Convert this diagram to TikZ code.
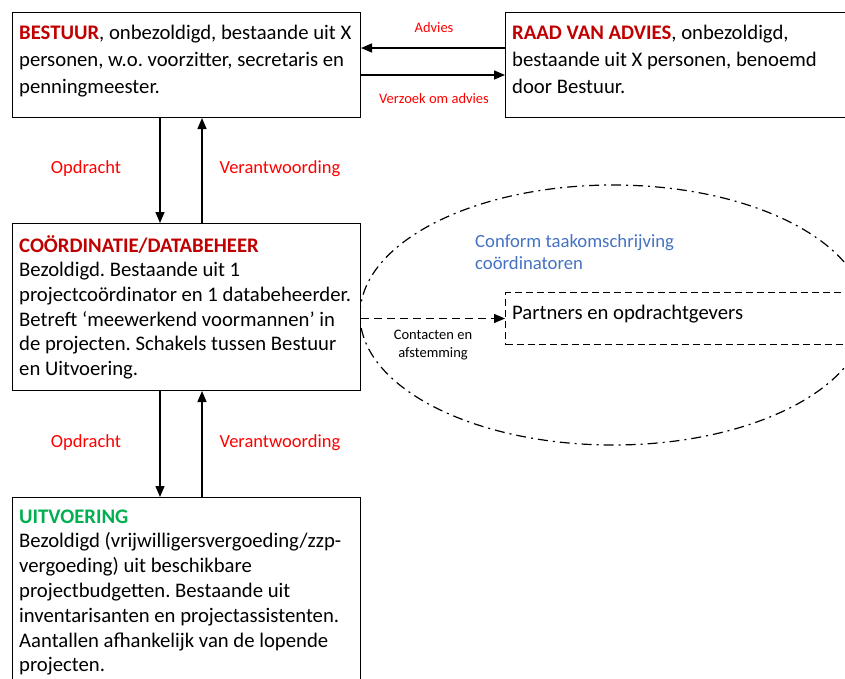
\documentclass[tikz,border=0pt]{standalone}
\usepackage{fontspec}
\setmainfont{Carlito}
\usetikzlibrary{arrows.meta}
\definecolor{hdred}{HTML}{C00000}
\definecolor{lblred}{HTML}{FF0000}
\definecolor{hdgreen}{HTML}{00B050}
\definecolor{cblue}{HTML}{4472C4}
\frenchspacing
\tikzset{
  box/.style={draw=black, line width=1pt, fill=white, inner sep=0pt, anchor=north west},
  dbox/.style={box, dash pattern=on 7pt off 4pt},
  body/.style={anchor=north west, inner sep=0pt, text width=420pt, align=flush left},
  lbl/.style={text=lblred, font=\fontsize{18.5}{21}\selectfont, inner sep=0pt},
  small/.style={font=\fontsize{14.5}{18.5}\selectfont, inner sep=0pt, align=center},
  conn/.style={line width=1.4pt, -{Triangle[length=11pt,width=9pt]}},
  dconn/.style={conn, dash pattern=on 8pt off 5pt},
  ell/.style={line width=1.2pt, dash pattern=on 10pt off 5pt on 2pt off 5pt},
}
\begin{document}
\begin{tikzpicture}[x=1pt,y=-1pt]
\useasboundingbox (0,0) rectangle (845,678);
% ellipse
\draw[ell] (613,315) ellipse [x radius=253, y radius=130];
% boxes
\node[box, minimum width=348pt, minimum height=105pt] (best) at (12,12) {};
\node[box, minimum width=400pt, minimum height=105pt] (raad) at (505,12) {};
\node[box, minimum width=348pt, minimum height=167pt] (coord) at (12,223) {};
\node[box, minimum width=348pt, minimum height=220pt] (uitv) at (12,497) {};
\node[dbox, minimum width=400pt, minimum height=52pt] (partners) at (505,292) {};
% texts
\node[body, font=\fontsize{20.7}{27}\selectfont] (tbest) at (19,20.1)
  {\strut\textbf{\textcolor{hdred}{BESTUUR}}, onbezoldigd, bestaande uit X\\
   personen, w.o. voorzitter, secretaris en\\
   penningmeester.};
\node[body, font=\fontsize{20.7}{27}\selectfont] (traad) at (512,20.1)
  {\strut\textbf{\textcolor{hdred}{RAAD VAN ADVIES}}, onbezoldigd,\\
   bestaande uit X personen, benoemd\\
   door Bestuur.};
\node[body, font=\fontsize{20.7}{24.6}\selectfont] (tcoord) at (19,234.8)
  {\strut\textbf{\textcolor{hdred}{COÖRDINATIE/DATABEHEER}}\\
   Bezoldigd. Bestaande uit 1\\
   projectcoördinator en 1 databeheerder.\\
   Betreft ‘meewerkend voormannen’ in\\
   de projecten. Schakels tussen Bestuur\\
   en Uitvoering.};
\node[body, font=\fontsize{20.7}{24.8}\selectfont] (tuitv) at (19,505.6)
  {\strut\textbf{\textcolor{hdgreen}{UITVOERING}}\\
   Bezoldigd (vrijwilligersvergoeding/zzp-\\
   vergoeding) uit beschikbare\\
   projectbudgetten. Bestaande uit\\
   inventarisanten en projectassistenten.\\
   Aantallen afhankelijk van de lopende\\
   projecten.};
\node[body, text=cblue, font=\fontsize{18.7}{22}\selectfont] (tconf) at (475,231.6)
  {\strut Conform taakomschrijving\\ coördinatoren};
\node[anchor=base west, inner sep=0pt, font=\fontsize{20.7}{24}\selectfont] (tpart) at (512,319)
  {Partners en opdrachtgevers};
% connectors
\draw[conn] ([yshift=-36pt]raad.north west) -- ([yshift=-36pt]best.north east);
\draw[conn] ([yshift=-63pt]best.north east) -- ([yshift=-63pt]raad.north west);
\draw[conn] ([xshift=148pt]best.south west) -- ([xshift=148pt]coord.north west);
\draw[conn] ([xshift=190pt]coord.north west) -- ([xshift=190pt]best.south west);
\draw[conn] ([xshift=148pt]coord.south west) -- ([xshift=148pt]uitv.north west);
\draw[conn] ([xshift=190pt]uitv.north west) -- ([xshift=190pt]coord.south west);
\draw[dconn] (coord.east |- partners.west) -- (partners.west);
% labels
\node[lbl, font=\fontsize{14.5}{17}\selectfont] (ladv) at (434,28) {Advies};
\node[lbl, font=\fontsize{14.5}{17}\selectfont] (lverz) at (434,99) {Verzoek om advies};
\node[lbl] (lopd1) at (86,169) {Opdracht};
\node[lbl] (lver1) at (280,169) {Verantwoording};
\node[lbl] (lopd2) at (86,443) {Opdracht};
\node[lbl] (lver2) at (280,443) {Verantwoording};
\node[small] (lcont) at (433,345) {Contacten en\\ afstemming};
\end{tikzpicture}
\end{document}
